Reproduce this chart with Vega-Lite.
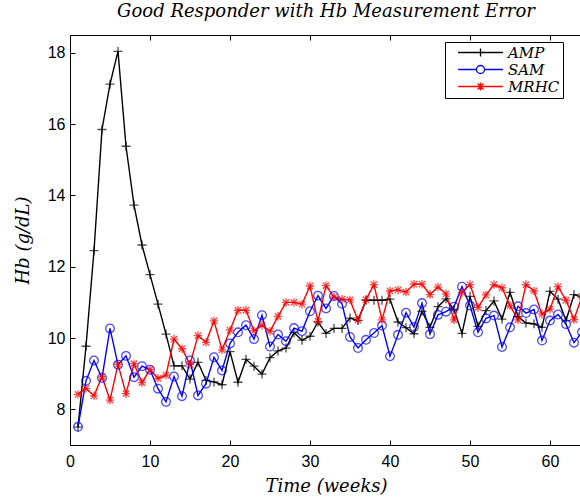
{
  "$schema": "https://vega.github.io/schema/vega-lite/v6.json",
  "width": 512,
  "height": 410,
  "autosize": {"type": "none"},
  "padding": {"left": 70, "top": 35, "right": 0, "bottom": 58},
  "background": "white",
  "title": {"text": "Good Responder with Hb Measurement Error", "font": "DejaVu Serif", "fontStyle": "italic", "fontWeight": "normal", "fontSize": 18, "anchor": "middle", "baseline": "alphabetic", "offset": 0, "color": "#000"},
  "config": {
    "view": {"stroke": "#000", "strokeWidth": 1},
    "axis": {"domainColor": "#000", "domainWidth": 1, "tickColor": "#000", "tickSize": -5, "tickWidth": 1, "grid": false, "labelFlush": false, "labelFont": "Liberation Sans", "labelFontSize": 16, "labelColor": "#000", "titleFont": "DejaVu Serif", "titleFontStyle": "italic", "titleFontWeight": "normal", "titleFontSize": 18, "titleColor": "#000"}
  },
  "data": {"values": [
    {"w":1,"s":"AMP","hb":7.50},{"w":2,"s":"AMP","hb":9.77},{"w":3,"s":"AMP","hb":12.45},{"w":4,"s":"AMP","hb":15.85},{"w":5,"s":"AMP","hb":17.12},{"w":6,"s":"AMP","hb":18.04},{"w":7,"s":"AMP","hb":15.38},{"w":8,"s":"AMP","hb":13.73},{"w":9,"s":"AMP","hb":12.61},{"w":10,"s":"AMP","hb":11.78},
    {"w":11,"s":"AMP","hb":10.95},{"w":12,"s":"AMP","hb":10.11},{"w":13,"s":"AMP","hb":9.22},{"w":14,"s":"AMP","hb":9.22},{"w":15,"s":"AMP","hb":8.85},{"w":16,"s":"AMP","hb":9.32},{"w":17,"s":"AMP","hb":8.81},{"w":18,"s":"AMP","hb":8.77},{"w":19,"s":"AMP","hb":8.69},{"w":20,"s":"AMP","hb":9.62},
    {"w":21,"s":"AMP","hb":8.76},{"w":22,"s":"AMP","hb":9.40},{"w":23,"s":"AMP","hb":9.21},{"w":24,"s":"AMP","hb":8.99},{"w":25,"s":"AMP","hb":9.45},{"w":26,"s":"AMP","hb":9.64},{"w":27,"s":"AMP","hb":9.72},{"w":28,"s":"AMP","hb":10.15},{"w":29,"s":"AMP","hb":9.94},{"w":30,"s":"AMP","hb":10.05},
    {"w":31,"s":"AMP","hb":10.45},{"w":32,"s":"AMP","hb":10.13},{"w":33,"s":"AMP","hb":10.27},{"w":34,"s":"AMP","hb":10.27},{"w":35,"s":"AMP","hb":10.56},{"w":36,"s":"AMP","hb":10.49},{"w":37,"s":"AMP","hb":11.06},{"w":38,"s":"AMP","hb":11.06},{"w":39,"s":"AMP","hb":11.06},{"w":40,"s":"AMP","hb":11.09},
    {"w":41,"s":"AMP","hb":10.45},{"w":42,"s":"AMP","hb":10.29},{"w":43,"s":"AMP","hb":10.12},{"w":44,"s":"AMP","hb":10.75},{"w":45,"s":"AMP","hb":10.30},{"w":46,"s":"AMP","hb":10.88},{"w":47,"s":"AMP","hb":11.10},{"w":48,"s":"AMP","hb":10.80},{"w":49,"s":"AMP","hb":10.13},{"w":50,"s":"AMP","hb":11.17},
    {"w":51,"s":"AMP","hb":10.33},{"w":52,"s":"AMP","hb":10.77},{"w":53,"s":"AMP","hb":11.04},{"w":54,"s":"AMP","hb":10.53},{"w":55,"s":"AMP","hb":11.28},{"w":56,"s":"AMP","hb":10.60},{"w":57,"s":"AMP","hb":10.42},{"w":58,"s":"AMP","hb":10.40},{"w":59,"s":"AMP","hb":10.30},{"w":60,"s":"AMP","hb":11.31},
    {"w":61,"s":"AMP","hb":11.09},{"w":62,"s":"AMP","hb":10.49},{"w":63,"s":"AMP","hb":11.22},{"w":64,"s":"AMP","hb":11.15},
    {"w":1,"s":"SAM","hb":7.51},{"w":2,"s":"SAM","hb":8.80},{"w":3,"s":"SAM","hb":9.37},{"w":4,"s":"SAM","hb":8.88},{"w":5,"s":"SAM","hb":10.27},{"w":6,"s":"SAM","hb":9.25},{"w":7,"s":"SAM","hb":9.50},{"w":8,"s":"SAM","hb":8.90},{"w":9,"s":"SAM","hb":9.21},{"w":10,"s":"SAM","hb":9.11},
    {"w":11,"s":"SAM","hb":8.58},{"w":12,"s":"SAM","hb":8.21},{"w":13,"s":"SAM","hb":8.92},{"w":14,"s":"SAM","hb":8.37},{"w":15,"s":"SAM","hb":9.37},{"w":16,"s":"SAM","hb":8.39},{"w":17,"s":"SAM","hb":8.72},{"w":18,"s":"SAM","hb":9.46},{"w":19,"s":"SAM","hb":9.09},{"w":20,"s":"SAM","hb":9.85},
    {"w":21,"s":"SAM","hb":10.16},{"w":22,"s":"SAM","hb":10.36},{"w":23,"s":"SAM","hb":9.97},{"w":24,"s":"SAM","hb":10.64},{"w":25,"s":"SAM","hb":9.76},{"w":26,"s":"SAM","hb":10.10},{"w":27,"s":"SAM","hb":9.91},{"w":28,"s":"SAM","hb":10.28},{"w":29,"s":"SAM","hb":10.19},{"w":30,"s":"SAM","hb":10.75},
    {"w":31,"s":"SAM","hb":11.19},{"w":32,"s":"SAM","hb":10.83},{"w":33,"s":"SAM","hb":11.18},{"w":34,"s":"SAM","hb":10.96},{"w":35,"s":"SAM","hb":10.03},{"w":36,"s":"SAM","hb":9.72},{"w":37,"s":"SAM","hb":9.95},{"w":38,"s":"SAM","hb":10.14},{"w":39,"s":"SAM","hb":10.35},{"w":40,"s":"SAM","hb":9.49},
    {"w":41,"s":"SAM","hb":10.09},{"w":42,"s":"SAM","hb":10.71},{"w":43,"s":"SAM","hb":10.31},{"w":44,"s":"SAM","hb":10.98},{"w":45,"s":"SAM","hb":10.11},{"w":46,"s":"SAM","hb":10.65},{"w":47,"s":"SAM","hb":10.74},{"w":48,"s":"SAM","hb":10.88},{"w":49,"s":"SAM","hb":11.44},{"w":50,"s":"SAM","hb":10.91},
    {"w":51,"s":"SAM","hb":10.16},{"w":52,"s":"SAM","hb":10.55},{"w":53,"s":"SAM","hb":10.63},{"w":54,"s":"SAM","hb":9.75},{"w":55,"s":"SAM","hb":10.30},{"w":56,"s":"SAM","hb":10.89},{"w":57,"s":"SAM","hb":10.70},{"w":58,"s":"SAM","hb":10.80},{"w":59,"s":"SAM","hb":9.93},{"w":60,"s":"SAM","hb":10.49},
    {"w":61,"s":"SAM","hb":10.66},{"w":62,"s":"SAM","hb":10.39},{"w":63,"s":"SAM","hb":9.87},{"w":64,"s":"SAM","hb":10.17},
    {"w":1,"s":"MRHC","hb":8.42},{"w":2,"s":"MRHC","hb":8.59},{"w":3,"s":"MRHC","hb":8.38},{"w":4,"s":"MRHC","hb":8.92},{"w":5,"s":"MRHC","hb":8.26},{"w":6,"s":"MRHC","hb":9.26},{"w":7,"s":"MRHC","hb":8.44},{"w":8,"s":"MRHC","hb":9.28},{"w":9,"s":"MRHC","hb":8.75},{"w":10,"s":"MRHC","hb":9.12},
    {"w":11,"s":"MRHC","hb":8.87},{"w":12,"s":"MRHC","hb":8.96},{"w":13,"s":"MRHC","hb":9.97},{"w":14,"s":"MRHC","hb":9.70},{"w":15,"s":"MRHC","hb":9.26},{"w":16,"s":"MRHC","hb":10.07},{"w":17,"s":"MRHC","hb":9.88},{"w":18,"s":"MRHC","hb":10.48},{"w":19,"s":"MRHC","hb":9.67},{"w":20,"s":"MRHC","hb":10.22},
    {"w":21,"s":"MRHC","hb":10.78},{"w":22,"s":"MRHC","hb":10.78},{"w":23,"s":"MRHC","hb":10.20},{"w":24,"s":"MRHC","hb":10.36},{"w":25,"s":"MRHC","hb":10.19},{"w":26,"s":"MRHC","hb":10.61},{"w":27,"s":"MRHC","hb":11.00},{"w":28,"s":"MRHC","hb":11.00},{"w":29,"s":"MRHC","hb":10.95},{"w":30,"s":"MRHC","hb":11.46},
    {"w":31,"s":"MRHC","hb":10.47},{"w":32,"s":"MRHC","hb":11.47},{"w":33,"s":"MRHC","hb":11.15},{"w":34,"s":"MRHC","hb":11.09},{"w":35,"s":"MRHC","hb":11.07},{"w":36,"s":"MRHC","hb":10.50},{"w":37,"s":"MRHC","hb":11.08},{"w":38,"s":"MRHC","hb":11.50},{"w":39,"s":"MRHC","hb":10.51},{"w":40,"s":"MRHC","hb":11.32},
    {"w":41,"s":"MRHC","hb":11.35},{"w":42,"s":"MRHC","hb":11.29},{"w":43,"s":"MRHC","hb":11.51},{"w":44,"s":"MRHC","hb":11.51},{"w":45,"s":"MRHC","hb":11.22},{"w":46,"s":"MRHC","hb":11.43},{"w":47,"s":"MRHC","hb":11.24},{"w":48,"s":"MRHC","hb":10.51},{"w":49,"s":"MRHC","hb":11.28},{"w":50,"s":"MRHC","hb":11.50},
    {"w":51,"s":"MRHC","hb":10.86},{"w":52,"s":"MRHC","hb":11.21},{"w":53,"s":"MRHC","hb":11.50},{"w":54,"s":"MRHC","hb":11.41},{"w":55,"s":"MRHC","hb":10.91},{"w":56,"s":"MRHC","hb":10.51},{"w":57,"s":"MRHC","hb":11.50},{"w":58,"s":"MRHC","hb":11.32},{"w":59,"s":"MRHC","hb":10.67},{"w":60,"s":"MRHC","hb":10.81},
    {"w":61,"s":"MRHC","hb":11.44},{"w":62,"s":"MRHC","hb":11.06},{"w":63,"s":"MRHC","hb":10.52},{"w":64,"s":"MRHC","hb":11.17}
  ]},
  "layer": [
    {
      "mark": {"type": "line", "strokeWidth": 1.4, "clip": true},
      "encoding": {
        "x": {"field": "w", "type": "quantitative", "scale": {"domain": [0, 64], "nice": false, "zero": false}, "axis": {"values": [0,10,20,30,40,50,60], "title": "Time (weeks)", "labelPadding": 13, "titleX": 256, "titleY": 46, "titleBaseline": "alphabetic"}},
        "y": {"field": "hb", "type": "quantitative", "scale": {"domain": [7, 18.5], "nice": false, "zero": false}, "axis": {"values": [8,10,12,14,16,18], "title": "Hb (g/dL)", "labelPadding": 10, "titleX": -42, "titleY": 205, "titleBaseline": "alphabetic", "titleAngle": -90}},
        "color": {"field": "s", "type": "nominal", "sort": ["AMP","SAM","MRHC"], "scale": {"domain": ["AMP","SAM","MRHC"], "range": ["#000000","#0000ff","#ff0000"]},
          "legend": {"orient": "none", "legendX": 375, "legendY": 7, "title": null, "strokeColor": "#000", "fillColor": "#fff", "padding": 3, "rowPadding": 1, "symbolSize": 64, "symbolStrokeWidth": 1.3, "symbolOffset": 25, "labelOffset": 20, "labelFont": "DejaVu Serif", "labelFontStyle": "italic", "labelFontSize": 15, "labelColor": "#000",
            "encode": {"symbols": {"update": {"shape": {"signal": "datum.value === 'AMP' ? 'M-5.6,0H5.6M0,-1V1' : datum.value === 'SAM' ? 'M-5.6,0H-1M1,0H5.6M1,0A1,1 0 1,1 -1,0A1,1 0 1,1 1,0' : 'M-5.6,0H5.6M0,-1V1M-0.75,-0.75L0.75,0.75M-0.75,0.75L0.75,-0.75'"}, "fill": {"value": "transparent"}}}}}
        }
      }
    },
    {
      "transform": [{"filter": "datum.s === 'AMP'"}],
      "mark": {"type": "point", "filled": false, "strokeWidth": 1.3, "size": 81, "shape": "M-1,0H1M0,-1V1", "color": "#000000", "clip": true},
      "encoding": {
        "x": {"field": "w", "type": "quantitative", "axis": {"orient": "top", "values": [0,10,20,30,40,50,60], "labels": false, "title": null}},
        "y": {"field": "hb", "type": "quantitative"}
      }
    },
    {
      "transform": [{"filter": "datum.s === 'SAM'"}],
      "mark": {"type": "point", "filled": false, "strokeWidth": 1.3, "size": 75, "shape": "circle", "color": "#0000ff", "clip": true},
      "encoding": {
        "x": {"field": "w", "type": "quantitative", "axis": null},
        "y": {"field": "hb", "type": "quantitative"}
      }
    },
    {
      "transform": [{"filter": "datum.s === 'MRHC'"}],
      "mark": {"type": "point", "filled": false, "strokeWidth": 1.3, "size": 72, "shape": "M-1,0H1M0,-1V1M-0.75,-0.75L0.75,0.75M-0.75,0.75L0.75,-0.75", "color": "#ff0000", "clip": true},
      "encoding": {
        "x": {"field": "w", "type": "quantitative", "axis": null},
        "y": {"field": "hb", "type": "quantitative"}
      }
    }
  ],
  "resolve": {"axis": {"x": "independent"}}
}
